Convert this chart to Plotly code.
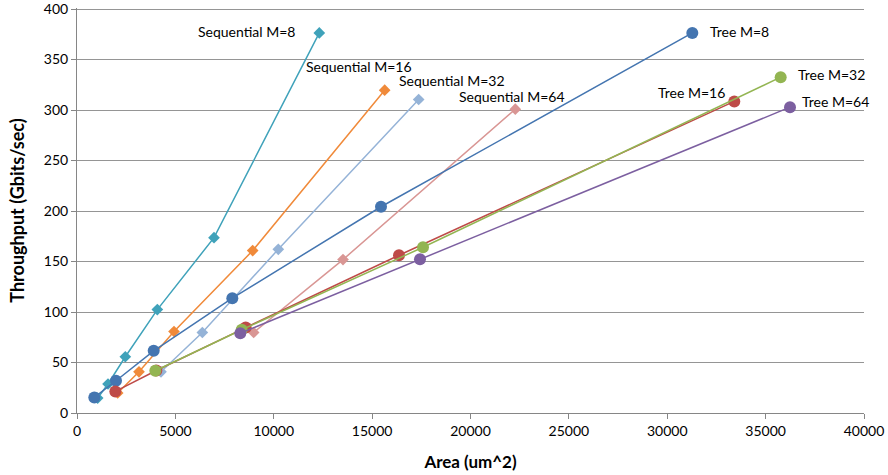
import plotly.graph_objects as go

# ---- data ----
tree8_x = [880, 1982, 3898, 7894, 15451, 31274]
tree8_y = [15.4, 31.9, 61.6, 113.7, 204.2, 376.3]
tree16_x = [1948, 4032, 8574, 16366, 33408]
tree16_y = [21.4, 42.1, 84.6, 156.2, 308.5]
tree32_x = [3980, 8370, 17586, 35765]
tree32_y = [41.8, 82.4, 164.1, 332.5]
tree64_x = [8300, 17433, 36239]
tree64_y = [79.0, 152.2, 302.8]
seq8_x = [1051, 1576, 2456, 4083, 6963, 12315]
seq8_y = [14.8, 28.7, 55.7, 102.4, 173.6, 376.3]
seq16_x = [2068, 3151, 4930, 8929, 15638]
seq16_y = [19.8, 40.8, 80.7, 160.8, 319.6]
seq32_x = [4269, 6370, 10232, 17366]
seq32_y = [40.8, 79.7, 162.1, 310.4]
seq64_x = [8980, 13520, 22277]
seq64_y = [79.7, 151.9, 300.8]

x_ticks = [0, 5000, 10000, 15000, 20000, 25000, 30000, 35000, 40000]
y_ticks = [0, 50, 100, 150, 200, 250, 300, 350, 400]

FONT = "Lato, Open Sans, sans-serif"

# (name, x, y, color, symbol, size, label xshift, yshift, xanchor)
series = [
    ("Sequential M=8", seq8_x, seq8_y, "#3FA2BA", "diamond", 9, -22, 1, "right"),
    ("Sequential M=16", seq16_x, seq16_y, "#F08A3A", "diamond", 9, -26, 24, "center"),
    ("Sequential M=32", seq32_x, seq32_y, "#95B3D7", "diamond", 9, -22, 19, "left"),
    ("Sequential M=64", seq64_x, seq64_y, "#D99694", "diamond", 9, -3, 13, "center"),
    ("Tree M=8", tree8_x, tree8_y, "#4475B0", "circle", 12, 16, 1, "left"),
    ("Tree M=16", tree16_x, tree16_y, "#BE4B48", "circle", 12, -7, 9, "right"),
    ("Tree M=32", tree32_x, tree32_y, "#93B552", "circle", 12, 15, 3, "left"),
    ("Tree M=64", tree64_x, tree64_y, "#7C5FA0", "circle", 12, 10, 6, "left"),
]

fig = go.Figure()
annotations = []
for name, xs, ys, col, sym, sz, xs_, ys_, xa in series:
    fig.add_trace(go.Scatter(
        x=xs, y=ys, mode="lines+markers", name=name,
        line=dict(color=col, width=1.5),
        marker=dict(color=col, symbol=sym, size=sz, line=dict(width=0)),
        showlegend=False,
    ))
    annotations.append(dict(
        x=xs[-1], y=ys[-1], xref="x", yref="y", text=name, showarrow=False,
        xanchor=xa, yanchor="middle", xshift=xs_, yshift=ys_,
        font=dict(family=FONT, size=14, color="#000000"),
    ))

fig.update_layout(
    width=888, height=475,
    margin=dict(l=77, r=24, t=8, b=62),
    paper_bgcolor="white", plot_bgcolor="white",
    annotations=annotations,
    font=dict(family=FONT, size=14, color="#000000"),
)
fig.update_xaxes(
    range=[0, 40000], tickvals=x_ticks, ticktext=[str(v) for v in x_ticks],
    showgrid=False, showline=True, linecolor="#868686", linewidth=1,
    ticks="outside", ticklen=5, tickcolor="#868686",
    zeroline=False, automargin=False, ticklabeloverflow="allow",
    title=dict(text="<b>Area (um^2)</b>", font=dict(family=FONT, size=17), standoff=18),
)
fig.update_yaxes(
    range=[0, 401], tickvals=y_ticks, ticktext=[str(v) for v in y_ticks],
    showgrid=True, gridcolor="#959595", gridwidth=1,
    showline=True, linecolor="#868686", linewidth=1,
    ticks="outside", ticklen=5, tickcolor="#868686",
    zeroline=False, automargin=False, ticklabeloverflow="allow",
    title=dict(text="<b>Throughput (Gbits/sec)</b>", font=dict(family=FONT, size=18), standoff=14),
)

fig.write_html("out.html")
